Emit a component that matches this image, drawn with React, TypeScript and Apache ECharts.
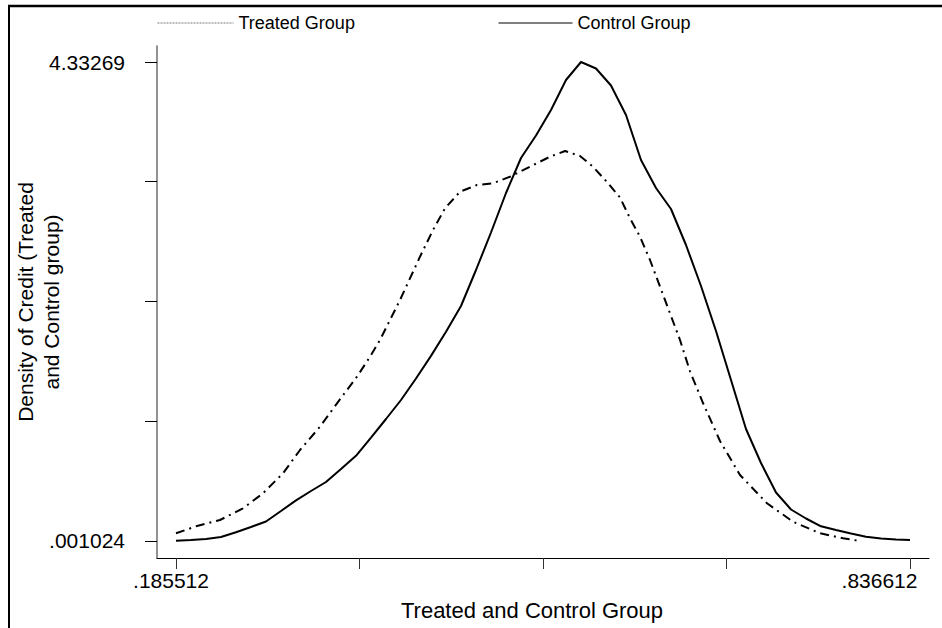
import React, { useEffect, useRef } from 'react';
import * as echarts from 'echarts';

// Treated group density (dash-dot)
const treatedX = [0.18551, 0.20414, 0.22454, 0.24494, 0.26269, 0.28043, 0.2955, 0.31325, 0.32833, 0.34607, 0.3576, 0.36647, 0.38421, 0.40195, 0.41348, 0.42413, 0.43744, 0.45252, 0.46671, 0.48179, 0.49953, 0.51727, 0.53058, 0.54388, 0.55541, 0.56783, 0.57936, 0.58824, 0.59711, 0.60598, 0.61485, 0.62372, 0.63259, 0.64146, 0.65299, 0.66807, 0.68581, 0.70976, 0.73283, 0.75678, 0.77718, 0.79226];
const treatedY = [0.0707, 0.1367, 0.1909, 0.2967, 0.4324, 0.6132, 0.8239, 1.0346, 1.2462, 1.4868, 1.6676, 1.8187, 2.1804, 2.572, 2.8134, 3.0096, 3.1598, 3.2203, 3.2357, 3.2954, 3.3858, 3.4763, 3.5278, 3.4826, 3.3858, 3.2475, 3.1073, 2.9192, 2.7528, 2.5421, 2.3016, 2.0601, 1.8187, 1.5356, 1.2489, 0.9053, 0.5978, 0.3419, 0.1755, 0.0707, 0.0254, 0.001024];

// Control group density (solid)
const controlX = [0.185512, 0.19882, 0.21212, 0.22543, 0.23873, 0.25204, 0.26535, 0.27865, 0.29196, 0.30526, 0.31857, 0.33187, 0.34518, 0.35849, 0.37179, 0.3851, 0.3984, 0.41171, 0.42502, 0.43832, 0.45163, 0.46493, 0.47824, 0.49155, 0.50485, 0.51816, 0.53146, 0.54477, 0.55808, 0.57138, 0.58469, 0.59799, 0.6113, 0.6246, 0.63791, 0.65122, 0.66452, 0.67783, 0.69113, 0.70444, 0.71775, 0.73105, 0.74436, 0.75766, 0.77097, 0.78428, 0.79758, 0.81089, 0.82419, 0.836612];
const controlY = [0.0028, 0.01, 0.0191, 0.0372, 0.0797, 0.1276, 0.1773, 0.2723, 0.3681, 0.4532, 0.5345, 0.6521, 0.7715, 0.9361, 1.1043, 1.2761, 1.4705, 1.6749, 1.8937, 2.1261, 2.4517, 2.7908, 3.148, 3.4645, 3.668, 3.8986, 4.1699, 4.33269, 4.2739, 4.1201, 3.8534, 3.4464, 3.1932, 3.0033, 2.6778, 2.307, 1.9001, 1.4569, 1.0138, 0.7064, 0.4396, 0.2859, 0.2045, 0.1339, 0.1005, 0.0688, 0.039, 0.0236, 0.0146, 0.01];

const seriesNames = ['Treated Group', 'Control Group'];

const xTickValues = [0.185512, 0.348287, 0.511062, 0.673837, 0.836612];
const xLabelValues = [0.185512, 0.836612];
const xLabelTexts = ['.185512', '.836612'];

const yTickValues = [0.001024, 1.0839405, 2.166857, 3.2497735, 4.33269];
const yLabelValues = [0.001024, 4.33269];
const yLabelTexts = ['.001024', '4.33269'];

const xTitle = 'Treated and Control Group';
const yTitle = 'Density of Credit (Treated\nand Control group)';

const FONT = "'Liberation Sans', Arial, Helvetica, sans-serif";

function findIdx(arr: number[], v: number): number {
  for (let i = 0; i < arr.length; i++) {
    if (Math.abs(arr[i] - v) < 1e-7) return i;
  }
  return -1;
}

export default function App() {
  const ref = useRef<HTMLDivElement>(null);

  useEffect(() => {
    if (!ref.current) return;
    const chart = echarts.init(ref.current, undefined, { renderer: 'svg' });

    const treatedData = treatedX.map((x, i) => [x, treatedY[i]]);
    const controlData = controlX.map((x, i) => [x, controlY[i]]);

    const option: any = {
      animation: false,
      backgroundColor: '#ffffff',
      textStyle: { fontFamily: FONT, color: '#000' },
      grid: { left: 157, right: 13, top: 46, bottom: 70, containLabel: false, outerBoundsMode: 'none' },
      legend: [
        {
          data: [seriesNames[0]],
          left: 157,
          top: 14,
          padding: 0,
          itemWidth: 76,
          itemHeight: 14,
          textStyle: { fontSize: 18, color: '#000', fontFamily: FONT },
          lineStyle: { type: [2, 1], color: '#7a7a7a', width: 1 },
          itemStyle: { opacity: 0 },
          selectedMode: false,
        },
        {
          data: [seriesNames[1]],
          left: 498,
          top: 14,
          padding: 0,
          itemWidth: 74,
          itemHeight: 14,
          textStyle: { fontSize: 18, color: '#000', fontFamily: FONT },
          lineStyle: { type: 'solid', color: '#000', width: 1 },
          itemStyle: { opacity: 0 },
          selectedMode: false,
        },
      ],
      xAxis: {
        type: 'value',
        min: 0.168658,
        max: 0.853466,
        name: xTitle,
        nameLocation: 'middle',
        nameGap: 41,
        nameMoveOverlap: false,
        nameTextStyle: { fontSize: 22, color: '#000', fontFamily: FONT, padding: [0, 22, 0, 0] },
        axisLine: { show: true, onZero: false, lineStyle: { color: '#000', width: 1 } },
        axisTick: { show: true, length: 11, customValues: xTickValues, lineStyle: { color: '#333', width: 1 } },
        axisLabel: {
          show: true,
          margin: 12,
          customValues: xLabelValues,
          fontSize: 21,
          color: '#000',
          fontFamily: FONT,
          formatter: (v: number) => {
            const i = findIdx(xLabelValues, v);
            if (i < 0) return '';
            return '{' + (i === 0 ? 'a' : 'b') + '|' + xLabelTexts[i] + '}';
          },
          rich: {
            a: { fontSize: 21, color: '#000', fontFamily: FONT, padding: [0, 10, 0, 0] },
            b: { fontSize: 21, color: '#000', fontFamily: FONT, padding: [0, 61, 0, 0] },
          },
        },
        splitLine: { show: false },
      },
      yAxis: {
        type: 'value',
        min: -0.15271,
        max: 4.47738,
        name: yTitle,
        nameLocation: 'middle',
        nameGap: 93,
        nameMoveOverlap: false,
        nameTextStyle: { fontSize: 21, lineHeight: 26, color: '#000', fontFamily: FONT, align: 'center' },
        axisLine: { show: true, onZero: false, lineStyle: { color: '#6e6e6e', width: 1.5 } },
        axisTick: { show: true, length: 12, customValues: yTickValues, lineStyle: { color: '#000', width: 1 } },
        axisLabel: {
          show: true,
          margin: 32,
          customValues: yLabelValues,
          fontSize: 21,
          color: '#000',
          fontFamily: FONT,
          padding: [10, 0, 0, 0],
          formatter: (v: number) => {
            const i = findIdx(yLabelValues, v);
            return i < 0 ? '' : yLabelTexts[i];
          },
        },
        splitLine: { show: false },
      },
      series: [
        {
          name: seriesNames[0],
          type: 'line',
          data: treatedData,
          symbol: 'none',
          showSymbol: false,
          lineStyle: { color: '#000', width: 2, type: [9, 5, 2, 5] },
          itemStyle: { color: '#000' },
          z: 3,
        },
        {
          name: seriesNames[1],
          type: 'line',
          data: controlData,
          symbol: 'none',
          showSymbol: false,
          lineStyle: { color: '#000', width: 2, type: 'solid' },
          itemStyle: { color: '#000' },
          z: 3,
        },
      ],
      graphic: {
        elements: [
          {
            id: 'frameLeft',
            type: 'line',
            shape: { x1: 9, y1: 5, x2: 9, y2: 640 },
            style: { stroke: '#000', lineWidth: 2 },
            silent: true,
            z: 100,
          },
          {
            id: 'frameTop',
            type: 'line',
            shape: { x1: 8, y1: 6, x2: 950, y2: 6 },
            style: { stroke: '#000', lineWidth: 2.5 },
            silent: true,
            z: 100,
          },
        ],
      },
    };

    chart.setOption(option);
    return () => {
      chart.dispose();
    };
  }, []);

  return (
    <div style={{ position: 'fixed', left: 0, top: 0, width: 942, height: 628, background: '#fff', overflow: 'hidden' }}>
      <div ref={ref} style={{ position: 'absolute', left: 0, top: 0, width: 942, height: 628 }} />
    </div>
  );
}
